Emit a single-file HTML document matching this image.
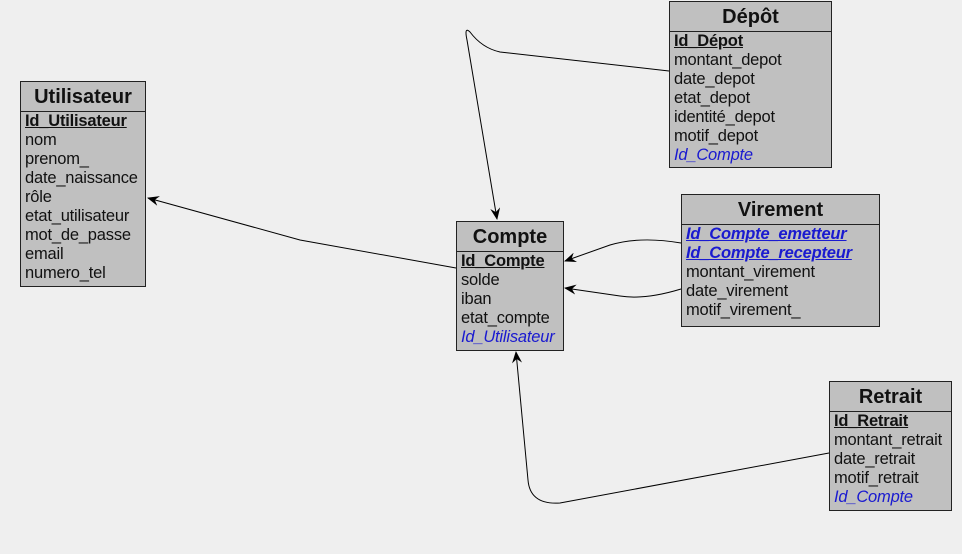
<!DOCTYPE html>
<html><head><meta charset="utf-8"><style>
body{margin:0;width:962px;height:554px;background:#efefef;position:relative;overflow:hidden;font-family:"Liberation Sans",sans-serif;}
.t{position:absolute;background:#c0c0c0;border:1px solid #222;box-sizing:border-box;}
.h{height:29px;border-bottom:1px solid #222;text-align:center;font-weight:bold;font-size:20px;line-height:30px;color:#111;}
.r{font-size:16.5px;line-height:19px;padding-left:4px;color:#111;white-space:nowrap;letter-spacing:-0.2px;}
.k{font-weight:bold;text-decoration:underline;}
.f{color:#1a1ad0;font-style:italic;}
svg{position:absolute;left:0;top:0;}
</style></head><body>
<svg width="962" height="554">
<defs><marker id="a" markerWidth="12" markerHeight="10" refX="11" refY="5" orient="auto" markerUnits="userSpaceOnUse"><path d="M0,0 L12,5 L0,10 L4,5 Z" fill="#000"/></marker></defs>
<g fill="none" stroke="#000" stroke-width="1">
<path d="M456,268 L300,240 L148,198" marker-end="url(#a)"/>
<path d="M669,71 L500,52 Q482,48 470,32 Q464,26 467,40 L497,219" marker-end="url(#a)"/>
<path d="M681,243 Q640,236 610,245 L565,261" marker-end="url(#a)"/>
<path d="M681,289 Q645,300 620,296 L565,288" marker-end="url(#a)"/>
<path d="M829,453 L560,503 Q530,505 528,480 L516,352" marker-end="url(#a)"/>
</g></svg>
<div class="t" style="left:20px;top:81px;width:126px;height:206px"><div class="h">Utilisateur</div>
<div class="r k">Id_Utilisateur</div><div class="r">nom</div><div class="r">prenom_</div><div class="r">date_naissance</div><div class="r">rôle</div><div class="r">etat_utilisateur</div><div class="r">mot_de_passe</div><div class="r">email</div><div class="r">numero_tel</div></div>
<div class="t" style="left:456px;top:221px;width:108px;height:130px"><div class="h">Compte</div>
<div class="r k">Id_Compte</div><div class="r">solde</div><div class="r">iban</div><div class="r">etat_compte</div><div class="r f">Id_Utilisateur</div></div>
<div class="t" style="left:669px;top:1px;width:163px;height:167px"><div class="h">Dépôt</div>
<div class="r k">Id_Dépot</div><div class="r">montant_depot</div><div class="r">date_depot</div><div class="r">etat_depot</div><div class="r">identité_depot</div><div class="r">motif_depot</div><div class="r f">Id_Compte</div></div>
<div class="t" style="left:681px;top:194px;width:199px;height:133px"><div class="h">Virement</div>
<div class="r f k">Id_Compte_emetteur</div><div class="r f k">Id_Compte_recepteur</div><div class="r">montant_virement</div><div class="r">date_virement</div><div class="r">motif_virement_</div></div>
<div class="t" style="left:829px;top:381px;width:123px;height:130px"><div class="h">Retrait</div>
<div class="r k">Id_Retrait</div><div class="r">montant_retrait</div><div class="r">date_retrait</div><div class="r">motif_retrait</div><div class="r f">Id_Compte</div></div>
</body></html>
